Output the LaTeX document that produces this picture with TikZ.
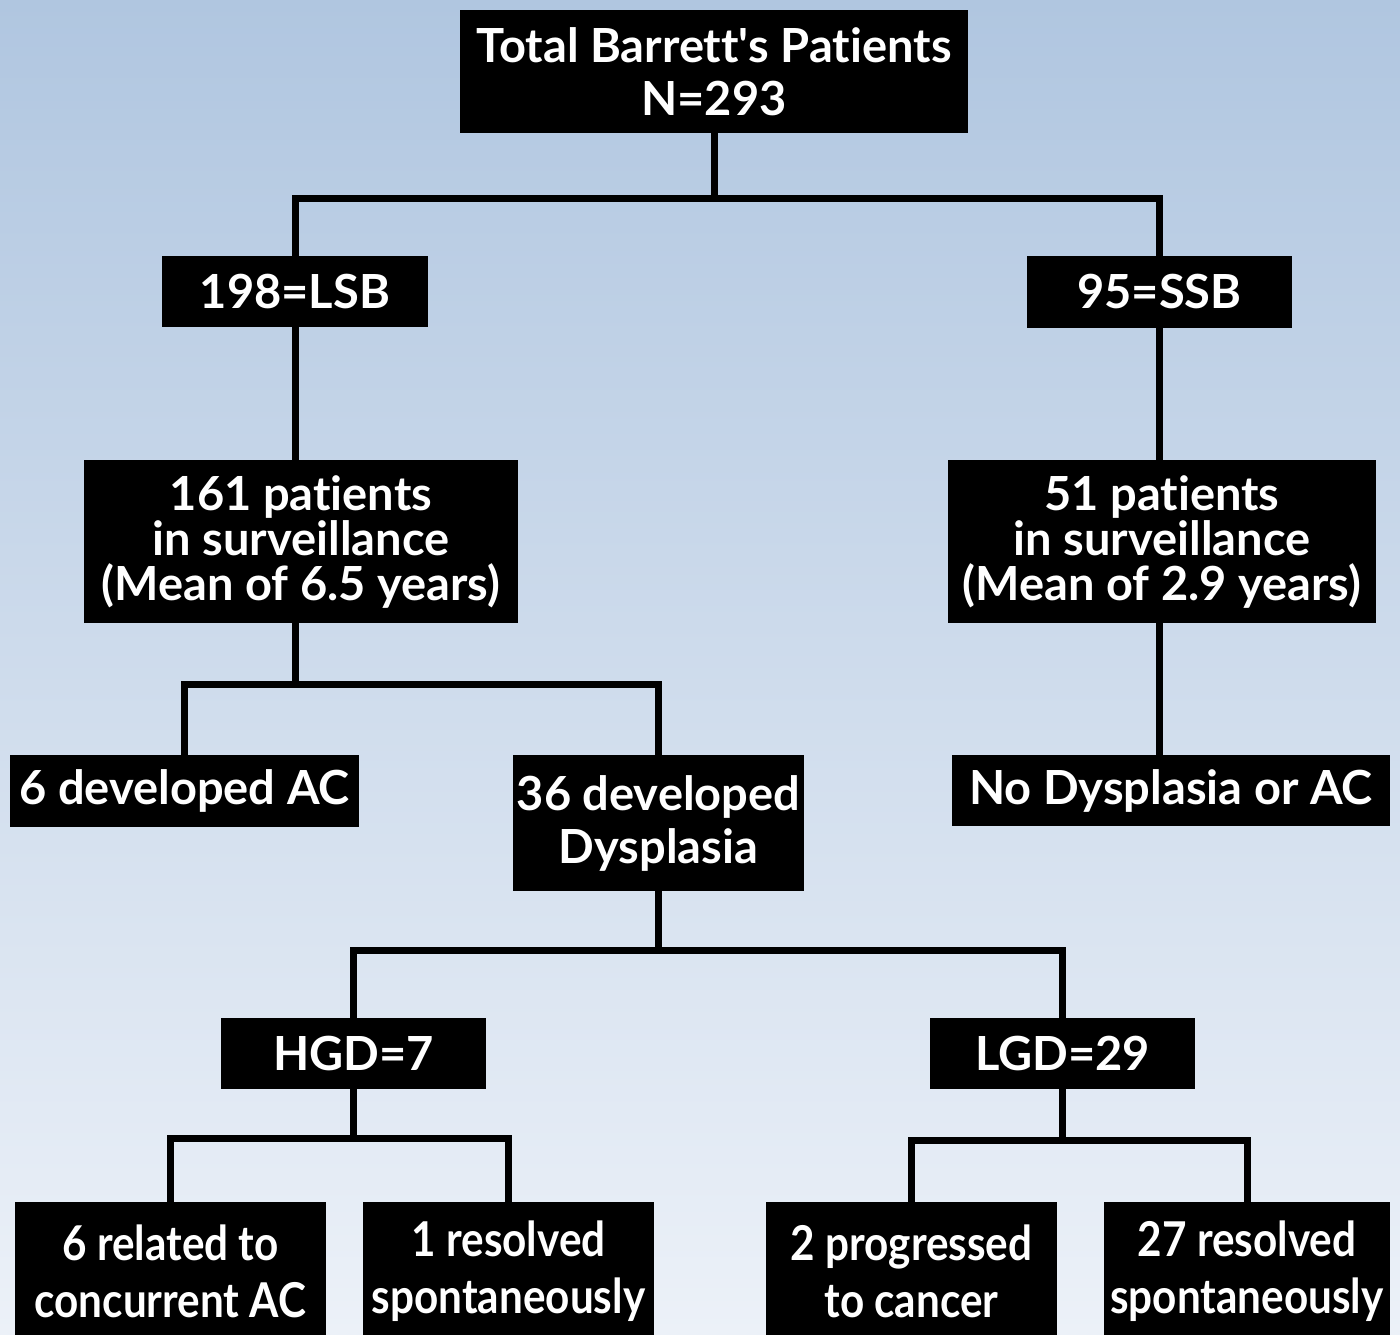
\documentclass[tikz,border=0pt]{standalone}
\usepackage{fontspec}
\setmainfont{Lato}[Ligatures=NoCommon]
\newfontfamily\narrowfont{Lato}[FakeStretch=0.88, Ligatures=NoCommon]
\definecolor{skytop}{RGB}{176,198,224}
\definecolor{skybot}{RGB}{236,241,248}

\tikzset{
  blk/.style 2 args={fill=black, text=white, align=center, inner sep=0pt,
    minimum width=#1, minimum height=#2,
    font=\bfseries\fontsize{47}{53}\selectfont},
  tight/.style={font=\bfseries\fontsize{47}{45}\selectfont},
  leaf/.style={font=\narrowfont\bfseries\fontsize{48}{57}\selectfont},
  wire/.style={line width=7pt}
}

\begin{document}
\begin{tikzpicture}[x=1pt, y=-1pt]
  \useasboundingbox (0,0) rectangle (1400,1334);
  \fill[top color=skytop, bottom color=skybot] (0,0) rectangle (1400,1334);

  % boxes
  \node[blk={508pt}{123pt}] (total) at (714,71.5) {Total Barrett\textquotesingle s Patients\\N=293};
  \node[blk={266pt}{71pt}] (lsb) at (295,291.5) {198=LSB};
  \node[blk={265pt}{72pt}] (ssb) at (1159.5,292) {95=SSB};
  \node[blk={434pt}{163pt}, tight] (s161) at (301,541.5) {161 patients\\in surveillance\\(Mean of 6.5 years)};
  \node[blk={428pt}{163pt}, tight] (s51) at (1162,541.5) {51 patients\\in surveillance\\(Mean of 2.9 years)};
  \node[blk={349pt}{72pt}] (ac) at (184.5,791) {6 developed AC};
  \node[blk={291pt}{136pt}] (dys) at (658.5,823) {36 developed\\Dysplasia};
  \node[blk={438pt}{71pt}] (nodys) at (1171,790.5) {No Dysplasia or AC};
  \node[blk={265pt}{71pt}] (hgd) at (353.5,1053.5) {HGD=7};
  \node[blk={265pt}{71pt}] (lgd) at (1062.5,1053.5) {LGD=29};
  \node[blk={311pt}{138pt}, leaf] (rel) at (170.5,1271) {6 related to\\concurrent AC};
  \node[blk={291pt}{138pt}, leaf] (res1) at (508.5,1271) {1 resolved\\spontaneously};
  \node[blk={291pt}{138pt}, leaf] (prog) at (911.5,1271) {2 progressed\\to cancer};
  \node[blk={286pt}{138pt}, leaf] (res27) at (1247,1271) {27 resolved\\spontaneously};

  % branch points
  \coordinate (j1) at (714,198);
  \coordinate (j2) at (295,684);
  \coordinate (j3) at (658.5,950);
  \coordinate (j4) at (353.5,1138);
  \coordinate (j5) at (1062.5,1140);

  % connectors
  \draw[wire] (total.south) -- (j1);
  \draw[wire] (lsb.north) |- (j1) -| (ssb.north);
  \draw[wire] (lsb.south) -- (lsb.south |- s161.north);
  \draw[wire] (ssb.south) -- (ssb.south |- s51.north);
  \draw[wire] (s161.south -| j2) -- (j2);
  \draw[wire] (ac.north) |- (j2) -| (dys.north);
  \draw[wire] (s51.south -| ssb.south) -- (nodys.north -| ssb.south);
  \draw[wire] (dys.south) -- (j3);
  \draw[wire] (hgd.north) |- (j3) -| (lgd.north);
  \draw[wire] (hgd.south) -- (j4);
  \draw[wire] (rel.north) |- (j4) -| (res1.north);
  \draw[wire] (lgd.south) -- (j5);
  \draw[wire] (prog.north) |- (j5) -| (res27.north);
\end{tikzpicture}
\end{document}
